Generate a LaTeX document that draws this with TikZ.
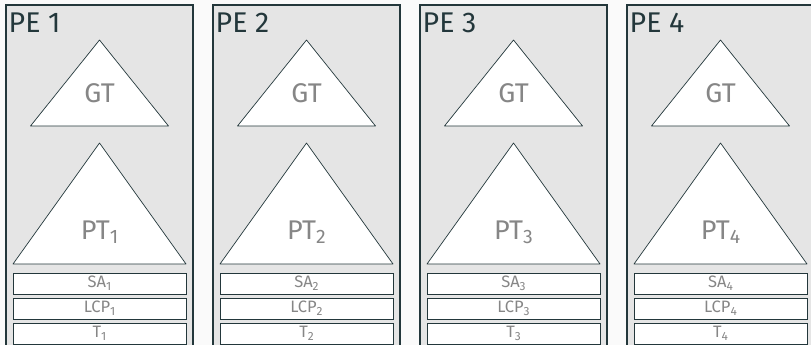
\documentclass[tikz,border=0pt]{standalone}
\usepackage{fontspec}
\usepackage{graphicx}
\setmainfont{Fira Sans}
\usetikzlibrary{positioning}
\definecolor{peteal}{HTML}{23373B}
\definecolor{pefill}{HTML}{E5E5E5}
\definecolor{pagebg}{HTML}{FAFAFA}
\definecolor{labelgray}{HTML}{868686}
% 下標
\newcommand{\idx}[1]{\raisebox{-0.35ex}{\scalebox{0.72}{#1}}}
\tikzset{
  pebox/.style={draw=peteal, fill=pefill, line width=1.4pt},
  tree/.style={draw=peteal, fill=white, line width=0.7pt, line join=round},
  strip/.style={draw=peteal, fill=white, line width=1pt, minimum width=173pt,
    minimum height=21pt, inner sep=0pt, text=labelgray,
    font=\fontsize{16.5}{17}\selectfont},
  petitle/.style={anchor=base west, inner sep=0pt, text=peteal,
    font=\fontsize{28.5}{30}\selectfont},
  treelabel/.style={anchor=base, inner sep=0pt, text=labelgray,
    font=\fontsize{27}{30}\selectfont}
}
\begin{document}
\begin{tikzpicture}[x=1pt, y=-1pt]         % PE 1--4
    \path[use as bounding box, clip] (0,0) rectangle (811,345);
    \fill[pagebg] (0,0) rectangle (811,345);
    \foreach \i in {1,...,4}{
        \pgfmathsetmacro{\xl}{6+207*(\i-1)}
        \pgfmathsetmacro{\xm}{\xl+93.5}
        % 定義三角形的頂點
        \coordinate (gtTop\i) at (\xm,40);
        \coordinate (gtL\i) at (\xm-69,126);
        \coordinate (gtR\i) at (\xm+69,126);
        \coordinate (ptTop\i) at (\xm,143);
        \coordinate (ptL\i) at (\xm-86.5,264);
        \coordinate (ptR\i) at (\xm+86.5,264);

        % 外框
        \draw[pebox] (\xl,5) rectangle ++(187,360);
        \node[petitle] (pe\i) at (\xl+2.5,33) {PE \i};

        % 畫出三角形
        \draw[tree] (gtTop\i) -- (gtR\i) -- (gtL\i) -- cycle;
        \node[treelabel] (gt\i) at (\xm,102) {GT};
        \draw[tree] (ptTop\i) -- (ptR\i) -- (ptL\i) -- cycle;
        \node[treelabel] (pt\i) at (\xm,239) {PT\idx{\i}};

        % 下方的三個欄位
        \node[strip] (sa\i) at (\xm,283.5) {SA\idx{\i}};
        \node[strip, below=3pt of sa\i] (lcp\i) {LCP\idx{\i}};
        \node[strip, below=3pt of lcp\i] (t\i) {T\idx{\i}};
    }
\end{tikzpicture}
\end{document}
